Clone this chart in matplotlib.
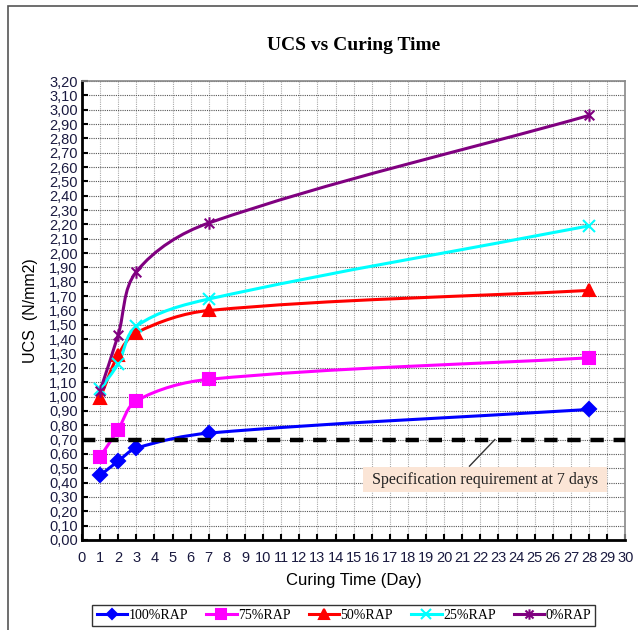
import numpy as np
import matplotlib
matplotlib.use("Agg")
import matplotlib.pyplot as plt
from matplotlib.path import Path
from matplotlib.patches import PathPatch, Rectangle
from matplotlib import font_manager

# data
days = [1, 2, 3, 7, 28]
rap100 = [0.45, 0.55, 0.64, 0.745, 0.91]
rap75 = [0.58, 0.77, 0.97, 1.12, 1.27]
rap50 = [0.99, 1.29, 1.445, 1.60, 1.74]
rap25 = [1.05, 1.23, 1.49, 1.68, 2.19]
rap0 = [1.04, 1.43, 1.87, 2.21, 2.96]
spec_value = 0.70
labels = ["100%RAP", "75%RAP", "50%RAP", "25%RAP", "0%RAP"]

names = {f.name for f in font_manager.fontManager.ttflist}
narrow = "Liberation Sans Narrow" if "Liberation Sans Narrow" in names else "Liberation Sans"
serif = "Liberation Serif"

# excel style star marker: x with a vertical bar
star = Path([(-1, -1), (1, 1), (-1, 1), (1, -1), (0, -1.3), (0, 1.3)],
            [Path.MOVETO, Path.LINETO, Path.MOVETO, Path.LINETO, Path.MOVETO, Path.LINETO])

series = [
    (rap100, "#0000ff", "D", 7),
    (rap75, "#ff00ff", "s", 8),
    (rap50, "#ff0000", "^", 8),
    (rap25, "#00ffff", "x", 9),
    (rap0, "#800080", star, 9),
]

# rough pixel scale of the axes, so the smoothing is done in screen proportions
SX, SY = 18.1, 143.4


def smooth_path(xs, ys):
    # cubic bezier through the points, like excel's smoothed line
    pts = np.column_stack([np.array(xs) * SX, np.array(ys) * SY]).astype(float)
    n = len(pts)
    tang = []
    for i in range(n):
        d = pts[min(i + 1, n - 1)] - pts[max(i - 1, 0)]
        tang.append(d / np.linalg.norm(d))
    verts = [pts[0]]
    codes = [Path.MOVETO]
    for i in range(n - 1):
        p1, p2 = pts[i], pts[i + 1]
        L = np.linalg.norm(p2 - p1) / 3
        verts += [p1 + tang[i] * L, p2 - tang[i + 1] * L, p2]
        codes += [Path.CURVE4] * 3
    verts = np.array(verts) / [SX, SY]
    return Path(verts, codes)


fig = plt.figure(figsize=(6.38, 6.30), dpi=100)
ax = fig.add_axes([0.1285, 0.1429, 0.8515, 0.7285])

# outer chart frame
fig.add_artist(Rectangle((0.0125, -0.05), 1.05, 1.04, transform=fig.transFigure,
                         fill=False, edgecolor="#555555", lw=1.2))

for (vals, col, mk, ms), lab in zip(series, labels):
    ax.add_patch(PathPatch(smooth_path(days, vals), facecolor="none", edgecolor=col, lw=2.2, zorder=3))
    ax.plot(days, vals, ls="none", marker=mk, color=col, ms=ms, mew=1.5, zorder=4)
    ax.plot([], [], color=col, marker=mk, ms=ms - 1.5, mew=1.5, lw=2.2, label=lab)

ax.axhline(spec_value, color="black", lw=3.2, dashes=(3, 2.2), zorder=5)

ax.add_patch(Rectangle((15.5, 0.335), 13.5, 0.175, facecolor="#fbe5d6", edgecolor="none", zorder=2))
ax.text(22.25, 0.42, "Specification requirement at 7 days", ha="center", va="center",
        fontsize=11.5, family=serif, color="#222222", zorder=6)
ax.plot([21.4, 22.8], [0.515, spec_value], color="#333333", lw=1, zorder=6)

ax.set_xlim(0, 30)
ax.set_ylim(0, 3.2)
ax.set_xticks(np.arange(0, 31, 1))
ax.set_yticks(np.round(np.arange(0, 3.21, 0.1), 2))
ax.set_yticklabels([f"{v:.2f}".replace(".", ",") for v in np.arange(0, 3.21, 0.1)])
ax.tick_params(labelsize=10.5, colors="black", labelcolor="#1a1a40", length=4, width=1.5, direction="in")
for t in ax.get_xticklabels() + ax.get_yticklabels():
    t.set_family(narrow)
ax.tick_params(axis="y", pad=3)
ax.tick_params(axis="x", pad=8)

ax.grid(axis="y", color="#555555", ls=(0, (1, 1)), lw=0.8)
ax.grid(axis="x", color="#aaaaaa", ls=(0, (1, 1)), lw=0.8)
ax.set_axisbelow(True)
for s in ["left", "bottom"]:
    ax.spines[s].set_linewidth(2)
for s in ["top", "right"]:
    ax.spines[s].set_color("#888888")
    ax.spines[s].set_linewidth(1.2)

ax.set_title("UCS vs Curing Time", family=serif, fontweight="bold", fontsize=14, pad=22)
ax.set_xlabel("Curing Time (Day)", family=narrow, fontsize=12, labelpad=6)
ax.set_ylabel("UCS  (N/mm2)", family="Liberation Sans", fontsize=11.5, labelpad=8)

fig.legend(loc="lower center", bbox_to_anchor=(0.539, 0.002), ncol=5, frameon=True, fancybox=False,
           edgecolor="black", prop={"family": serif, "size": 10}, handlelength=2.2,
           handletextpad=0.1, columnspacing=1.3, borderpad=0.3, borderaxespad=0.2)

fig.savefig("out.png", dpi=100)
